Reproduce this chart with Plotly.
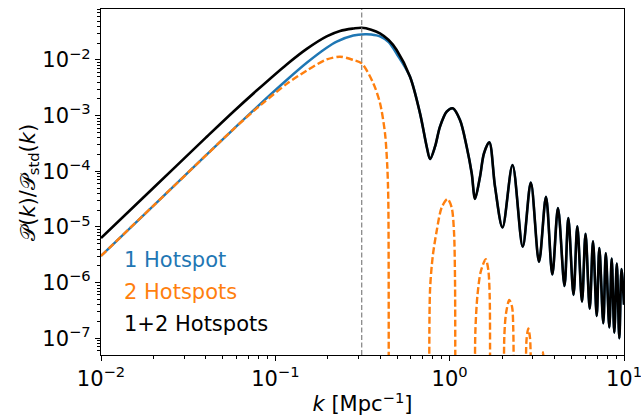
import plotly.graph_objects as go

# Power ratio P(k)/P_std(k) for hotspot templates, k in Mpc^-1.

# 1+2 hotspots: rise, main peak and start of the fall
k_black_rise = [0.01, 0.01995, 0.03981, 0.0574, 0.0781, 0.1162, 0.1514, 0.197,
                0.235, 0.2800, 0.313, 0.3548, 0.3981, 0.4467, 0.4966]
p_black_rise = [6.34e-6, 5.01e-5, 3.98e-4, 1.175e-3, 2.82e-3, 8.32e-3,
                1.585e-2, 2.661e-2, 3.327e-2, 3.673e-2, 3.80e-2, 3.508e-2,
                3.02e-2, 2.291e-2, 1.514e-2]

# 1 hotspot: rise, main peak and start of the fall
k_blue_rise = [0.01, 0.01995, 0.03981, 0.0574, 0.0781, 0.1162, 0.1514, 0.197,
               0.2249, 0.2800, 0.327, 0.3548, 0.3981, 0.4467, 0.4966]
p_blue_rise = [3.02e-6, 2.40e-5, 1.905e-4, 5.69e-4, 1.413e-3, 4.37e-3,
               8.91e-3, 1.66e-2, 2.138e-2, 2.754e-2, 2.90e-2, 2.871e-2,
               2.661e-2, 2.089e-2, 1.288e-2]

# Oscillating tail, shared by "1 Hotspot" and "1+2 Hotspots"
k_osc = [0.5923, 0.676, 0.7385, 0.7716, 0.824, 0.88, 0.9616, 1.041, 1.146,
         1.252, 1.338, 1.398, 1.493, 1.574, 1.688, 1.82, 2.010, 2.294, 2.624,
         2.921, 3.254, 3.569, 3.880, 4.182, 4.557, 4.793, 5.133, 5.398, 5.743,
         6.016, 6.359, 6.641, 6.975, 7.219, 7.607, 7.864, 8.236, 8.501, 8.799,
         9.094, 9.399, 9.676, 10.0]
p_osc = [5.01e-3, 1.10e-3, 2.77e-4, 1.665e-4, 2.77e-4, 6.34e-4, 1.18e-3,
         1.356e-3, 8.36e-4, 2.77e-4, 9.21e-5, 3.2e-5, 8.0e-5, 2.11e-4, 3.32e-4,
         5.3e-5, 9.79e-6, 1.30e-4, 4.42e-6, 6.30e-5, 2.38e-6, 3.50e-5, 1.40e-6,
         2.19e-5, 8.70e-7, 1.45e-5, 6.0e-7, 1.03e-5, 4.55e-7, 7.57e-6, 3.39e-7,
         5.53e-6, 2.52e-7, 4.19e-6, 1.86e-7, 3.37e-6, 1.56e-7, 2.71e-6, 1.26e-7,
         2.21e-6, 1.0e-7, 1.76e-6, 4.0e-7]

# 2 hotspots: positive branches only (None splits the lobes)
k_orange = [0.01, 0.01995, 0.03981, 0.0574, 0.0781, 0.0853, 0.1162, 0.1514,
            0.197, 0.235, 0.2800, 0.313, 0.3648, 0.3987, 0.4257, 0.4388,
            0.4446, 0.447, None,
            0.764, 0.7716, 0.799, 0.8404, 0.9, 0.9718, 1.027, 1.059, 1.073,
            1.077, None,
            1.398, 1.403, 1.441, 1.507, 1.61, 1.666, 1.697, 1.703, None,
            2.05, 2.058, 2.105, 2.198, 2.279, 2.317, 2.329, None,
            2.741, 2.759, 2.825, 2.89, 2.928, None,
            3.364, 3.432, 3.499]
p_orange = [3.02e-6, 2.40e-5, 1.905e-4, 5.69e-4, 1.349e-3, 1.70e-3, 3.72e-3,
            6.46e-3, 1.023e-2, 1.146e-2, 1.0e-2, 8.71e-3, 3.81e-3, 1.67e-3,
            4.82e-4, 1.21e-4, 3.05e-5, 1e-8, None,
            1e-8, 7.38e-7, 2.92e-6, 8.13e-6, 2.24e-5, 3.18e-5, 2.24e-5, 8.13e-6,
            1.21e-6, 1e-8, None,
            1e-8, 1.23e-7, 5.59e-7, 1.57e-6, 2.63e-6, 1.69e-6, 5.59e-7, 1e-8,
            None,
            1e-8, 1.07e-7, 2.81e-7, 4.88e-7, 3.70e-7, 1.41e-7, 1e-8, None,
            1e-8, 9.3e-8, 1.51e-7, 1.01e-7, 1e-8, None,
            1e-8, 5.6e-8, 1e-8]

k_star = 0.313            # characteristic scale marked by the dashed line
x_range = [-2, 1]         # log10 limits
y_range = [-7.30, -1.084]

x_ticks = [1e-2, 1e-1, 1e0, 1e1]
x_ticktext = ["10<sup>−2</sup>", "10<sup>−1</sup>", "10<sup>0</sup>",
              "10<sup>1</sup>"]
y_ticks = [1e-7, 1e-6, 1e-5, 1e-4, 1e-3, 1e-2]
y_ticktext = ["10<sup>−7</sup>", "10<sup>−6</sup>", "10<sup>−5</sup>",
              "10<sup>−4</sup>", "10<sup>−3</sup>", "10<sup>−2</sup>"]

labels = ["1 Hotspot", "2 Hotspots", "1+2 Hotspots"]
colors = ["#1f77b4", "#ff7f0e", "#000000"]

FONT = "DejaVu Sans"
FS = 21


def minor_positions(lo_exp, hi_exp):
    return [m * 10.0 ** e for e in range(lo_exp, hi_exp) for m in range(2, 10)]


fig = go.Figure()

fig.add_trace(go.Scatter(
    x=k_blue_rise + k_osc, y=p_blue_rise + p_osc, mode="lines",
    line=dict(color=colors[0], width=2.4, shape="spline", smoothing=0.9),
    showlegend=False))

fig.add_trace(go.Scatter(
    x=k_orange, y=p_orange, mode="lines", connectgaps=False,
    line=dict(color=colors[1], width=2.4, dash="7px,3px", shape="spline",
              smoothing=0.8),
    showlegend=False))

fig.add_trace(go.Scatter(
    x=k_black_rise + k_osc, y=p_black_rise + p_osc, mode="lines",
    line=dict(color=colors[2], width=2.6, shape="spline", smoothing=0.9),
    showlegend=False))

fig.add_trace(go.Scatter(
    x=[k_star, k_star], y=[10 ** y_range[0], 10 ** y_range[1]], mode="lines",
    line=dict(color="gray", width=1.2, dash="5px,2.5px"),
    showlegend=False))

label_y = [0.2746, 0.182, 0.0896]
for text, col, yy in zip(labels, colors, label_y):
    fig.add_annotation(x=0.0402, y=yy, xref="paper", yref="paper",
                       text=text, showarrow=False, xanchor="left",
                       yanchor="middle",
                       font=dict(family=FONT, size=FS, color=col))

# y-axis title, rotated
fig.add_annotation(x=-0.138, y=0.5, xref="paper", yref="paper",
                   text="𝒫(<i>k</i>)/𝒫<sub>std</sub>(<i>k</i>)",
                   textangle=-90, showarrow=False, xanchor="center",
                   yanchor="middle",
                   font=dict(family=FONT, size=FS, color="black"))

axis_common = dict(
    type="log", showgrid=False, zeroline=False, showline=True,
    linecolor="black", linewidth=1.2, mirror=True, ticks="outside",
    ticklen=5, tickwidth=1.1, tickcolor="black", ticklabeloverflow="allow",
    tickfont=dict(family=FONT, size=FS, color="black"),
)

fig.update_xaxes(range=x_range, tickmode="array", tickvals=x_ticks,
                 ticktext=x_ticktext,
                 minor=dict(tickmode="array", tickvals=minor_positions(-2, 1),
                            ticks="outside", ticklen=3, tickwidth=0.8,
                            tickcolor="black", showgrid=False),
                 title=dict(text="<i>k</i> [Mpc<sup>−1</sup>]",
                            font=dict(family=FONT, size=FS, color="black"),
                            standoff=6),
                 **axis_common)
fig.update_yaxes(range=y_range, tickmode="array", tickvals=y_ticks,
                 ticktext=y_ticktext,
                 minor=dict(tickmode="array", tickvals=minor_positions(-8, -1),
                            ticks="outside", ticklen=3, tickwidth=0.8,
                            tickcolor="black", showgrid=False),
                 **axis_common)

fig.update_layout(
    width=641, height=418,
    margin=dict(l=101, r=17, t=9, b=63, autoexpand=False),
    paper_bgcolor="white", plot_bgcolor="white",
    font=dict(family=FONT, size=FS, color="black"),
)

fig.write_html("out.html")
